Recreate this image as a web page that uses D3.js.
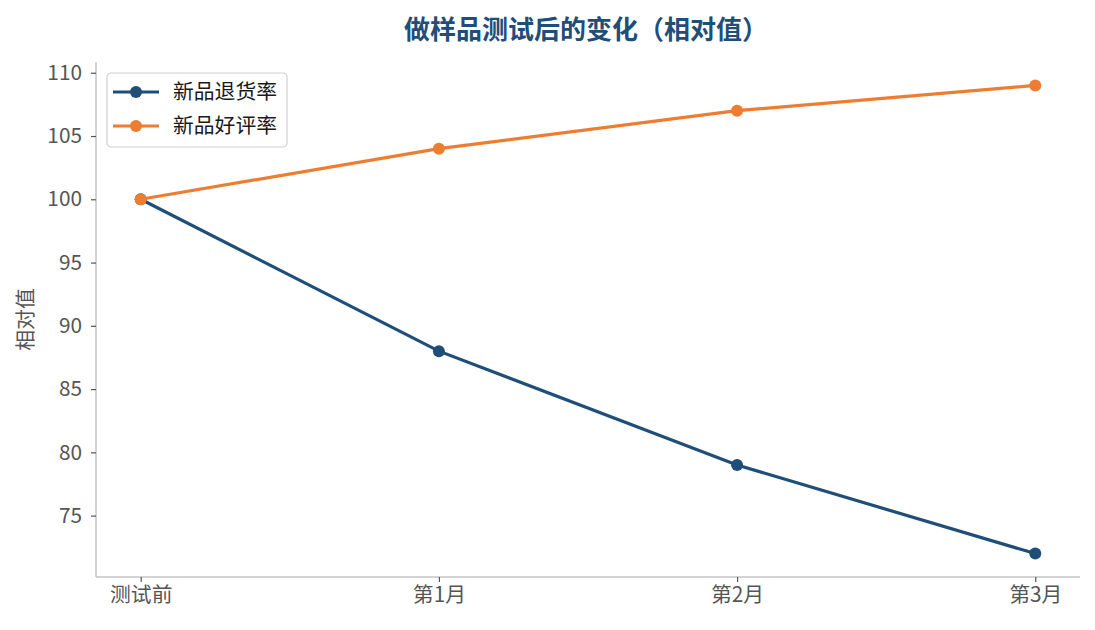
<!DOCTYPE html>
<html>
<head>
<meta charset="utf-8">
<script src="https://cdn.jsdelivr.net/npm/d3@7"></script>
<style>
  body { margin: 0; background: #fff; overflow: hidden; }
  svg { display: block; }
  svg text { font-family: "Noto Sans CJK SC", "Noto Sans", sans-serif; }
</style>
</head>
<body>
<svg id="chart"></svg>
<script>
const categories = ["测试前", "第1月", "第2月", "第3月"];
const returnRate = [100, 88, 79, 72];
const goodRate = [100, 104, 107, 109];
const yTicks = [75, 80, 85, 90, 95, 100, 105, 110];
const seriesNames = ["新品退货率", "新品好评率"];
const colors = ["#1f4e79", "#ed7d31"];

const width = 1095, height = 630;
const margin = { top: 62, right: 15, bottom: 53, left: 96 };
const innerWidth = width - margin.left - margin.right;
const innerHeight = height - margin.top - margin.bottom;

const svg = d3.select("#chart").attr("width", width).attr("height", height);
const g = svg.append("g").attr("transform", `translate(${margin.left},${margin.top})`);

const xScale = d3.scaleLinear().domain([-0.15, categories.length - 1 + 0.15]).range([0, innerWidth]);
const allVals = returnRate.concat(goodRate);
const lo = d3.min(allVals), hi = d3.max(allVals), pad = (hi - lo) * 0.05;
const yScale = d3.scaleLinear().domain([lo - pad, hi + pad]).range([innerHeight, 0]);

// axes
const xAxis = g.append("g").attr("transform", `translate(0,${innerHeight})`)
  .call(d3.axisBottom(xScale).tickValues(d3.range(categories.length)).tickFormat(i => categories[i]).tickSize(5).tickPadding(5));
const yAxis = g.append("g")
  .call(d3.axisLeft(yScale).tickValues(yTicks).tickSize(5).tickPadding(9));

[xAxis, yAxis].forEach(a => {
  a.select(".domain").attr("stroke", "#c4c4c4").attr("stroke-width", 1.5);
  a.selectAll(".tick line").attr("stroke", "#555").attr("stroke-width", 1.2);
  a.selectAll(".tick text").attr("fill", "#555").style("font-size", "20.8px");
});
xAxis.select(".domain").attr("d", `M0,0H${innerWidth}`);
yAxis.select(".domain").attr("d", `M0,0V${innerHeight}`);

// lines
const line = d3.line().x((d, i) => xScale(i)).y(d => yScale(d));
[returnRate, goodRate].forEach((series, k) => {
  g.append("path").datum(series)
    .attr("d", line).attr("fill", "none")
    .attr("stroke", colors[k]).attr("stroke-width", 3.2);
  g.selectAll(null).data(series).join("circle")
    .attr("cx", (d, i) => xScale(i)).attr("cy", d => yScale(d))
    .attr("r", 6).attr("fill", colors[k]);
});

// title
svg.append("text")
  .attr("x", margin.left + innerWidth / 2 - 2).attr("y", 39)
  .attr("text-anchor", "middle")
  .attr("fill", "#1f4e79").style("font-size", "26px").style("font-weight", "bold")
  .text("做样品测试后的变化（相对值）");

// y axis title
svg.append("text")
  .attr("transform", `translate(26,${margin.top + innerHeight / 2}) rotate(-90)`)
  .attr("text-anchor", "middle").attr("dy", "0.35em")
  .attr("fill", "#555").style("font-size", "20.8px")
  .text("相对值");

// legend
const legend = svg.append("g").attr("transform", "translate(107,73)");
legend.append("rect").attr("width", 180).attr("height", 74).attr("rx", 4)
  .attr("fill", "#fff").attr("stroke", "#d0d0d0").attr("stroke-width", 1.2);
seriesNames.forEach((name, k) => {
  const y = 19 + k * 34;
  legend.append("line").attr("x1", 6).attr("x2", 52).attr("y1", y).attr("y2", y)
    .attr("stroke", colors[k]).attr("stroke-width", 3.2);
  legend.append("circle").attr("cx", 29).attr("cy", y).attr("r", 6).attr("fill", colors[k]);
  legend.append("text").attr("x", 66).attr("y", y).attr("dy", "0.36em")
    .attr("fill", "#1a1a1a").style("font-size", "20.8px").text(name);
});
</script>
</body>
</html>
